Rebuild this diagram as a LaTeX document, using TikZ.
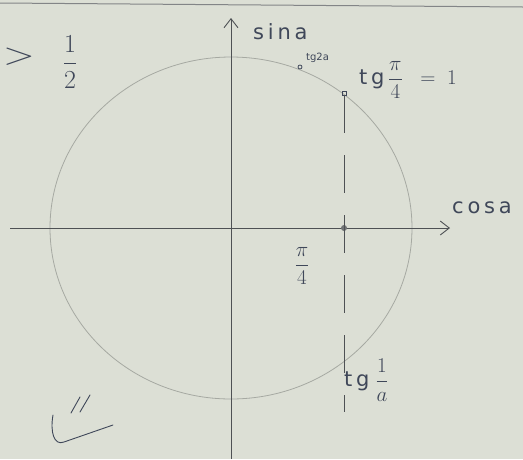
\documentclass[tikz,border=0pt]{standalone}
\usepackage{fix-cm}
\usepackage{amsmath}
\usepackage{fontspec}
\setmainfont{DejaVu Sans}
\definecolor{paper}{HTML}{DCDFD5}
\definecolor{ink}{HTML}{3F4759}
\definecolor{pencil}{HTML}{A6A9A2}
\definecolor{axisc}{HTML}{4E5154}
\usetikzlibrary{arrows.meta}
\tikzset{
  axis/.style={draw=axisc,line width=0.9pt,-{Straight Barb[length=9pt,width=14pt]}},
  circ/.style={draw=pencil,line width=0.8pt},
  tline/.style={draw=axisc,line width=0.9pt,dash pattern=on 38pt off 22pt},
  lab/.style={text=ink,font=\fontsize{21}{23}\selectfont\addfontfeatures{LetterSpace=18},inner sep=1pt},
  blab/.style={text=ink,font=\fontsize{26}{28}\selectfont,inner sep=1pt},
  slab/.style={text=ink,font=\fontsize{10}{11}\selectfont,inner sep=1pt},
  pen/.style={draw=ink,line width=0.9pt,line cap=round},
}
\begin{document}
\begin{tikzpicture}[x=1pt,y=-1pt]
\fill[paper] (0,0) rectangle (523,459);
\useasboundingbox (0,0) rectangle (523,459);
% page edge
\draw[axisc!70,line width=1pt] (0,3) -- (523,7);
\draw[circ] (231,228) ellipse [x radius=181, y radius=171];
% axes
\coordinate (xl) at (10,228); \coordinate (xr) at (450,228);
\coordinate (yb) at (231,459); \coordinate (yt) at (231,18);
\draw[axis] (xl) -- (xr);
\draw[axis] (yb) -- (yt);
\node[lab,anchor=west] (sin) at (252,32) {sina};
\node[lab,anchor=west] (cos) at (451,208) {cosa};
% points on the circle
\node[draw=ink,line width=0.8pt,minimum size=4pt,inner sep=0pt] (p4) at (344,93) {};
\node[draw=ink,line width=0.8pt,circle,minimum size=4pt,inner sep=0pt] (p2) at (300,67) {};
\node[fill=axisc!80,circle,minimum size=6pt,inner sep=0pt] (px) at (344,228) {};
\coordinate (tb) at (344,412);
\draw[tline] (p4) -- (tb);
\node[slab,anchor=south west] (t2) at (305,64) {tg2a};
\node[lab,anchor=west] (t4) at (358,80) {tg\,$\dfrac{\pi}{4}\;\;=\;1$};
\node[lab] (q4) at (302,266) {$\dfrac{\pi}{4}$};
\node[lab,anchor=west] (t1) at (343,380) {tg\;$\dfrac{1}{a}$};
% top left
\node[blab] (gt) at (19,57) {\scalebox{1.6}[1.2]{$>$}};
\node[blab] (half) at (70,62) {$\dfrac{1}{2}$};
% bottom left marks
\draw[pen] (71,413) -- (80,397);
\draw[pen] (80,412) -- (90,395);
\draw[pen] (53,415) .. controls (50,432) and (54,446) .. (64,442) -- (113,425);
\end{tikzpicture}
\end{document}
